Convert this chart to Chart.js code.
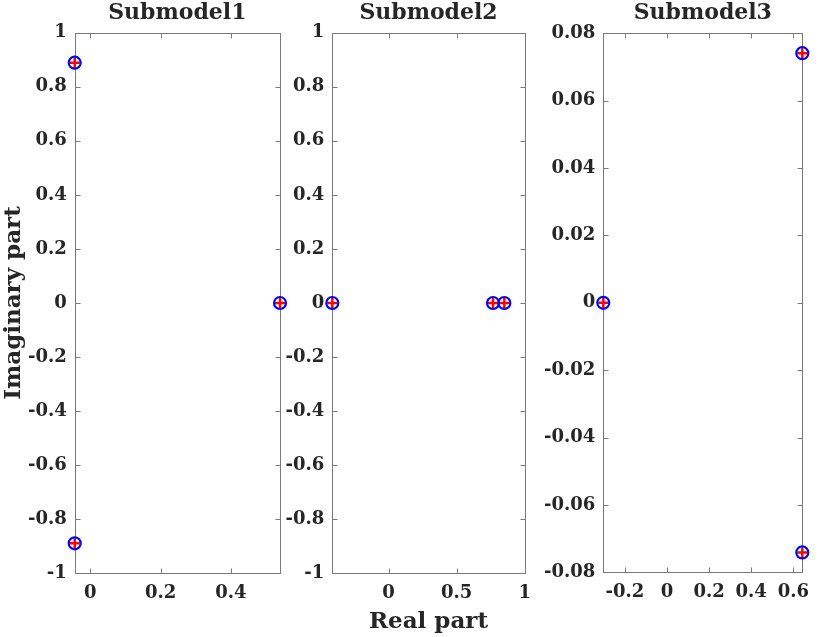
<!DOCTYPE html>
<html>
<head>
<meta charset="utf-8">
<script src="https://cdn.jsdelivr.net/npm/chart.js@4.4.0/dist/chart.umd.min.js"></script>
<style>
  body { margin: 0; background: #fff; width: 830px; height: 637px; position: relative; overflow: hidden; }
  canvas { position: absolute; top: 0; }
</style>
</head>
<body>
<canvas id="c1" width="290" height="637" style="left:0px"></canvas>
<canvas id="c2" width="270" height="637" style="left:270px"></canvas>
<canvas id="c3" width="290" height="637" style="left:540px"></canvas>
<script>
// data (poles of each submodel)
const titles = ['Submodel1', 'Submodel2', 'Submodel3'];

const real1 = [-0.0444, -0.0444, 0.5397];
const imag1 = [0.889, -0.889, 0];
const real2 = [-0.4136, 0.767, 0.850];
const imag2 = [0, 0, 0];
const real3 = [-0.3026, 0.6428, 0.6428];
const imag3 = [0, 0.0741, -0.0741];

const xLim1 = [-0.0444, 0.5397];
const xLim2 = [-0.4136, 1];
const xLim3 = [-0.3026, 0.6428];
const yLim1 = [-1, 1];
const yLim2 = [-1, 1];
const yLim3 = [-0.08, 0.08];

const xTicks1 = [0, 0.2, 0.4];
const xTicks2 = [0, 0.5, 1];
const xTicks3 = [-0.2, 0, 0.2, 0.4, 0.6];
const yTicks1 = [1, 0.8, 0.6, 0.4, 0.2, 0, -0.2, -0.4, -0.6, -0.8, -1];
const yTicks2 = yTicks1;
const yTicks3 = [0.08, 0.06, 0.04, 0.02, 0, -0.02, -0.04, -0.06, -0.08];

const textColor = '#262626';
const tickFont = { family: 'DejaVu Serif', weight: 'bold', size: 18 };
const labelFont = { family: 'DejaVu Serif', weight: 'bold', size: 23 };

// box round the axes, inner tick marks, title on top
const framePlugin = {
  id: 'frame',
  beforeDatasetsDraw(chart, args, opts) {
    const { ctx, chartArea: { left, right, top, bottom } } = chart;
    const l = Math.round(left) + 0.5, r = Math.round(right) + 0.5;
    const t = Math.round(top) + 0.5, b = Math.round(bottom) + 0.5;
    ctx.save();
    ctx.strokeStyle = '#7a7a7a';
    ctx.lineWidth = 1;
    ctx.strokeRect(l, t, r - l, b - t);
    const len = 5;
    chart.scales.x.ticks.forEach(tk => {
      const px = Math.round(chart.scales.x.getPixelForValue(tk.value)) + 0.5;
      ctx.beginPath();
      ctx.moveTo(px, b); ctx.lineTo(px, b - len);
      ctx.moveTo(px, t); ctx.lineTo(px, t + len);
      ctx.stroke();
    });
    chart.scales.y.ticks.forEach(tk => {
      const py = Math.round(chart.scales.y.getPixelForValue(tk.value)) + 0.5;
      ctx.beginPath();
      ctx.moveTo(l, py); ctx.lineTo(l + len, py);
      ctx.moveTo(r, py); ctx.lineTo(r - len, py);
      ctx.stroke();
    });
    ctx.fillStyle = textColor;
    ctx.font = 'bold 22px "DejaVu Serif"';
    ctx.textAlign = 'center';
    ctx.textBaseline = 'alphabetic';
    ctx.fillText(opts.text, (left + right) / 2, 19);
    ctx.restore();
  }
};

function makeChart(id, title, re, im, xLim, yLim, xTicks, yTicks, box, xTitle, yTitle) {
  const pts = re.map((x, i) => ({ x: x, y: im[i] }));
  return new Chart(document.getElementById(id), {
    type: 'scatter',
    data: {
      datasets: [
        { data: pts, pointStyle: 'circle', pointRadius: 6, pointBorderWidth: 2.2,
          pointBorderColor: '#0000ff', pointBackgroundColor: 'rgba(0,0,0,0)', clip: false },
        { data: pts, pointStyle: 'cross', pointRadius: 5, pointBorderWidth: 2.5,
          pointBorderColor: '#ff0000', clip: false }
      ]
    },
    options: {
      responsive: false,
      animation: false,
      devicePixelRatio: 1,
      events: [],
      layout: { padding: { top: box.top, right: box.right, left: 0, bottom: 0 } },
      plugins: {
        legend: { display: false },
        tooltip: { enabled: false },
        frame: { text: title }
      },
      scales: {
        x: {
          type: 'linear', min: xLim[0], max: xLim[1],
          afterBuildTicks: s => { s.ticks = xTicks.map(v => ({ value: v })); },
          afterFit: s => { s.height = box.xh; },
          grid: { display: false, drawTicks: false },
          border: { display: false },
          ticks: { padding: 9, maxRotation: 0, autoSkip: false, font: tickFont, color: textColor,
                   callback: v => String(v) },
          title: { display: !!xTitle, text: xTitle || '', font: labelFont, color: textColor,
                   padding: { top: 0, bottom: 1 } }
        },
        y: {
          type: 'linear', min: yLim[0], max: yLim[1],
          afterBuildTicks: s => { s.ticks = yTicks.map(v => ({ value: v })); },
          afterFit: s => { s.width = box.yw; },
          grid: { display: false, drawTicks: false },
          border: { display: false },
          ticks: { padding: 8, autoSkip: false, font: tickFont, color: textColor,
                   callback: v => String(v) },
          title: { display: !!yTitle, text: yTitle || '', font: labelFont, color: textColor,
                   padding: { top: 0, bottom: 0 } }
        }
      }
    },
    plugins: [framePlugin]
  });
}

makeChart('c1', titles[0], real1, imag1, xLim1, yLim1, xTicks1, yTicks1,
  { top: 32.7, right: 10, yw: 74.7, xh: 63.7 }, null, 'Imaginary part');
makeChart('c2', titles[1], real2, imag2, xLim2, yLim2, xTicks2, yTicks2,
  { top: 32.7, right: 7.7, yw: 62.3, xh: 63.7 }, 'Real part', null);
makeChart('c3', titles[2], real3, imag3, xLim3, yLim3, xTicks3, yTicks3,
  { top: 33.3, right: 27.7, yw: 63.3, xh: 64.7 }, null, null);
</script>
</body>
</html>
